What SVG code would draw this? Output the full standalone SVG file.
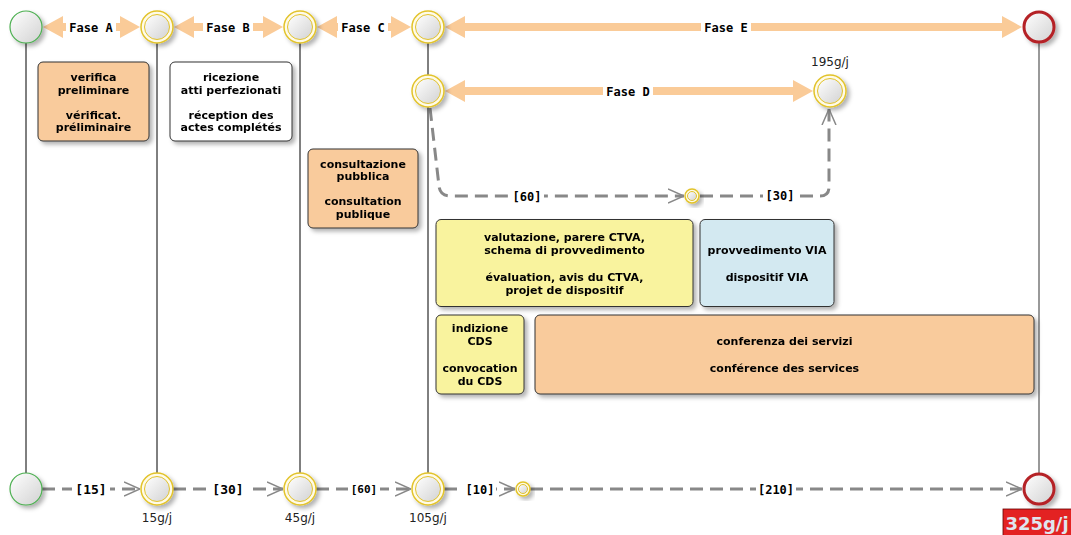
<svg xmlns="http://www.w3.org/2000/svg" width="1071" height="535" viewBox="0 0 1071 535">
<style>
.life{stroke:#000;stroke-width:1}
.fase{stroke:#FACB98;stroke-width:8;fill:none}
.dash{stroke:#888;stroke-width:3;fill:none;stroke-dasharray:13 7}
.lbl{font-family:"DejaVu Sans Mono",monospace;font-weight:bold;fill:#000;text-anchor:middle}
.box{stroke:#333;stroke-width:1}
.bt{font-family:"DejaVu Sans",sans-serif;font-weight:bold;font-size:11px;fill:#000;text-anchor:middle}
.day{font-family:"DejaVu Sans",sans-serif;font-size:12px;fill:#222;text-anchor:middle}
.or{fill:#F9CB9C}.ye{fill:#F9F39E}.bl{fill:#D3E9F1}.wh{fill:#fff}
.ring{stroke:#E2C32B;fill:#fffbe8}
</style>
<defs>
<linearGradient id="g" x1="0" y1="0" x2="1" y2="1"><stop offset="0" stop-color="#ffffff"/><stop offset="1" stop-color="#d2d2d2"/></linearGradient>
<filter id="sh" x="-30%" y="-30%" width="160%" height="160%"><feDropShadow dx="3" dy="3" stdDeviation="2" flood-color="#000" flood-opacity="0.3"/></filter>
<marker id="fa" viewBox="0 0 20 22" refX="0" refY="11" markerWidth="20" markerHeight="22" markerUnits="userSpaceOnUse" orient="auto-start-reverse"><path d="M0,0 L20,11 L0,22 z" fill="#FACB98"/></marker>
<marker id="oa" viewBox="0 0 16 16" refX="16" refY="8" markerWidth="16" markerHeight="16" markerUnits="userSpaceOnUse" orient="auto"><path d="M0,1 L16,8 L0,15" fill="none" stroke="#888" stroke-width="1.5"/></marker>
</defs>
<rect width="1071" height="535" fill="#fff"/>

<g id="lifelines">
<line class="life" x1="26" y1="43" x2="26" y2="473"/>
<line class="life" x1="157" y1="43" x2="157" y2="473"/>
<line class="life" x1="300" y1="43" x2="300" y2="473"/>
<line class="life" x1="428" y1="43" x2="428" y2="75"/>
<line class="life" x1="428" y1="107" x2="428" y2="473"/>
<line x1="1039" y1="43" x2="1039" y2="473" stroke="#777" stroke-width="1.5"/>
</g>

<g id="connectors">
<line class="fase" x1="63" y1="27" x2="120" y2="27" marker-start="url(#fa)" marker-end="url(#fa)"/>
<line class="fase" x1="194" y1="27" x2="263" y2="27" marker-start="url(#fa)" marker-end="url(#fa)"/>
<line class="fase" x1="337" y1="27" x2="391" y2="27" marker-start="url(#fa)" marker-end="url(#fa)"/>
<line class="fase" x1="465" y1="27" x2="1002" y2="27" marker-start="url(#fa)" marker-end="url(#fa)"/>
<line class="fase" x1="465" y1="91" x2="793" y2="91" marker-start="url(#fa)" marker-end="url(#fa)"/>
<rect x="66" y="19" width="50" height="17" fill="#fff"/><text class="lbl" x="91" y="32" font-size="12">Fase A</text>
<rect x="203" y="19" width="50" height="17" fill="#fff"/><text class="lbl" x="228" y="32" font-size="12">Fase B</text>
<rect x="338" y="19" width="50" height="17" fill="#fff"/><text class="lbl" x="363" y="32" font-size="12">Fase C</text>
<rect x="701" y="19" width="50" height="17" fill="#fff"/><text class="lbl" x="726" y="32" font-size="12">Fase E</text>
<rect x="603" y="83" width="50" height="17" fill="#fff"/><text class="lbl" x="628" y="96" font-size="12">Fase D</text>

<path class="dash" d="M430,108 L439,186 Q440,196 450,196 L684,196" marker-end="url(#oa)"/>
<path class="dash" d="M700,196 L820,196 Q829,196 829,187 L829,109" marker-end="url(#oa)"/>
<rect x="510" y="188" width="34" height="16" fill="#fff"/><text class="lbl" x="527" y="201" font-size="12">[60]</text>
<rect x="763" y="188" width="34" height="16" fill="#fff"/><text class="lbl" x="780" y="200" font-size="12">[30]</text>

<path class="dash" d="M42,489 L140,489" marker-end="url(#oa)"/>
<path class="dash" d="M173,489 L283,489" marker-end="url(#oa)"/>
<path class="dash" d="M316,489 L411,489" marker-end="url(#oa)"/>
<path class="dash" d="M444,489 L515,489" marker-end="url(#oa)"/>
<path class="dash" d="M530,489 L1022,489" marker-end="url(#oa)"/>
<rect x="72" y="480" width="38" height="18" fill="#fff"/><text class="lbl" x="91" y="494" font-size="13">[15]</text>
<rect x="209" y="480" width="38" height="18" fill="#fff"/><text class="lbl" x="228" y="494" font-size="13">[30]</text>
<rect x="348" y="481" width="32" height="16" fill="#fff"/><text class="lbl" x="364" y="493" font-size="11">[60]</text>
<rect x="464" y="481" width="32" height="16" fill="#fff"/><text class="lbl" x="480" y="494" font-size="12">[10]</text>
<rect x="756" y="481" width="40" height="16" fill="#fff"/><text class="lbl" x="776" y="494" font-size="12">[210]</text>
</g>

<g id="n-start-top" filter="url(#sh)"><circle cx="26" cy="27" r="16" fill="url(#g)" stroke="#4CAF50" stroke-width="1.2"/></g>
<g id="n-a-top" filter="url(#sh)"><circle class="ring" cx="157" cy="27" r="16" stroke-width="1.5"/><circle cx="157" cy="27" r="12.5" fill="url(#g)" stroke="#E2C32B" stroke-width="1"/></g>
<g id="n-b-top" filter="url(#sh)"><circle class="ring" cx="300" cy="27" r="16" stroke-width="1.5"/><circle cx="300" cy="27" r="12.5" fill="url(#g)" stroke="#E2C32B" stroke-width="1"/></g>
<g id="n-c-top" filter="url(#sh)"><circle class="ring" cx="428" cy="27" r="16" stroke-width="1.5"/><circle cx="428" cy="27" r="12.5" fill="url(#g)" stroke="#E2C32B" stroke-width="1"/></g>
<g id="n-end-top" filter="url(#sh)"><circle cx="1039" cy="27" r="15" fill="url(#g)" stroke="#B52025" stroke-width="3"/></g>
<g id="n-d-start" filter="url(#sh)"><circle class="ring" cx="428" cy="91" r="16" stroke-width="1.5"/><circle cx="428" cy="91" r="12.5" fill="url(#g)" stroke="#E2C32B" stroke-width="1"/></g>
<g id="n-d-end" filter="url(#sh)"><circle class="ring" cx="830" cy="91" r="16" stroke-width="1.5"/><circle cx="830" cy="91" r="12.5" fill="url(#g)" stroke="#E2C32B" stroke-width="1"/></g>
<text class="day" x="830" y="66">195g/j</text>
<g id="n-mid" filter="url(#sh)"><circle class="ring" cx="692" cy="196" r="7" stroke-width="1.5"/><circle cx="692" cy="196" r="4.5" fill="url(#g)" stroke="#E2C32B" stroke-width="1"/></g>

<g id="n-start-bot" filter="url(#sh)"><circle cx="26" cy="489" r="16" fill="url(#g)" stroke="#4CAF50" stroke-width="1.2"/></g>
<g id="n-15" filter="url(#sh)"><circle class="ring" cx="157" cy="489" r="16" stroke-width="1.5"/><circle cx="157" cy="489" r="12.5" fill="url(#g)" stroke="#E2C32B" stroke-width="1"/></g>
<text class="day" x="157" y="522">15g/j</text>
<g id="n-45" filter="url(#sh)"><circle class="ring" cx="300" cy="489" r="16" stroke-width="1.5"/><circle cx="300" cy="489" r="12.5" fill="url(#g)" stroke="#E2C32B" stroke-width="1"/></g>
<text class="day" x="300" y="522">45g/j</text>
<g id="n-105" filter="url(#sh)"><circle class="ring" cx="428" cy="489" r="16" stroke-width="1.5"/><circle cx="428" cy="489" r="12.5" fill="url(#g)" stroke="#E2C32B" stroke-width="1"/></g>
<text class="day" x="428" y="522">105g/j</text>
<g id="n-115" filter="url(#sh)"><circle class="ring" cx="523" cy="489" r="7" stroke-width="1.5"/><circle cx="523" cy="489" r="4.5" fill="url(#g)" stroke="#E2C32B" stroke-width="1"/></g>
<g id="n-end-bot" filter="url(#sh)"><circle cx="1039" cy="489" r="15" fill="url(#g)" stroke="#B52025" stroke-width="3"/></g>
<g id="total"><rect x="1003" y="509" width="69" height="27" fill="#E32222" stroke="#600" stroke-width="0.8"/><text x="1037" y="530" font-family="DejaVu Sans,sans-serif" font-weight="bold" font-size="18" fill="#dfe6ee" text-anchor="middle">325g/j</text></g>

<g id="box-verifica" filter="url(#sh)"><rect class="box or" x="38" y="62" width="111" height="79" rx="5"/>
<text class="bt" x="93.5" y="81">verifica</text><text class="bt" x="93.5" y="93.5">preliminare</text><text class="bt" x="93.5" y="118.5">vérificat.</text><text class="bt" x="93.5" y="131">préliminaire</text></g>
<g id="box-ricezione" filter="url(#sh)"><rect class="box wh" x="170" y="62" width="122" height="79" rx="5"/>
<text class="bt" x="231" y="81">ricezione</text><text class="bt" x="231" y="93.5">atti perfezionati</text><text class="bt" x="231" y="118.5">réception des</text><text class="bt" x="231" y="131">actes complétés</text></g>
<g id="box-consultazione" filter="url(#sh)"><rect class="box or" x="308" y="149" width="110" height="79" rx="5"/>
<text class="bt" x="363" y="167.5">consultazione</text><text class="bt" x="363" y="180">pubblica</text><text class="bt" x="363" y="205">consultation</text><text class="bt" x="363" y="217.5">publique</text></g>
<g id="box-valutazione" filter="url(#sh)"><rect class="box ye" x="436" y="219.5" width="257" height="87" rx="5"/>
<text class="bt" x="564.5" y="240.5">valutazione, parere CTVA,</text><text class="bt" x="564.5" y="254">schema di provvedimento</text><text class="bt" x="564.5" y="280.5">évaluation, avis du CTVA,</text><text class="bt" x="564.5" y="294">projet de dispositif</text></g>
<g id="box-provvedimento" filter="url(#sh)"><rect class="box bl" x="700" y="219.5" width="134" height="87" rx="5"/>
<text class="bt" x="767" y="254">provvedimento VIA</text><text class="bt" x="767" y="280.5">dispositif VIA</text></g>
<g id="box-indizione" filter="url(#sh)"><rect class="box ye" x="436" y="315" width="88" height="79" rx="5"/>
<text class="bt" x="480" y="332">indizione</text><text class="bt" x="480" y="345">CDS</text><text class="bt" x="480" y="372">convocation</text><text class="bt" x="480" y="385">du CDS</text></g>
<g id="box-conferenza" filter="url(#sh)"><rect class="box or" x="535" y="315" width="499" height="79" rx="5"/>
<text class="bt" x="784.5" y="345">conferenza dei servizi</text><text class="bt" x="784.5" y="372">conférence des services</text></g>
</svg>
